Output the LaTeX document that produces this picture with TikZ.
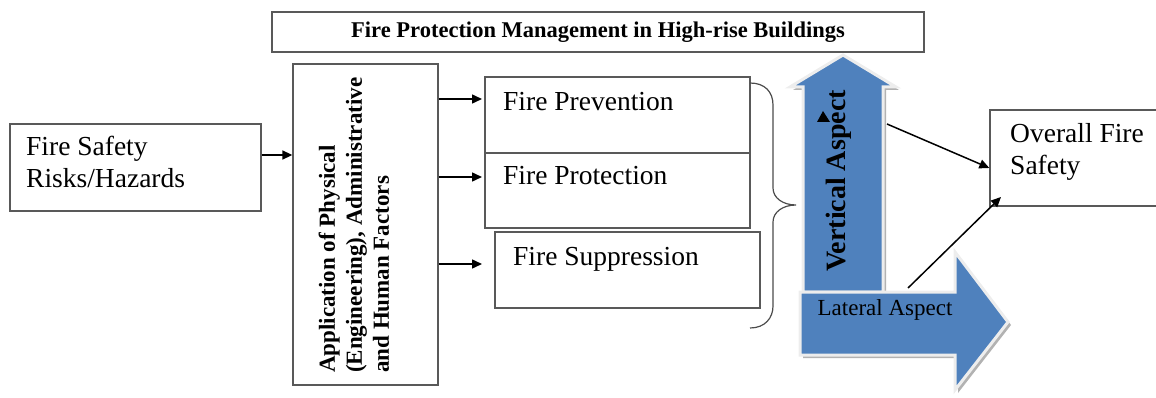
\documentclass[tikz,border=0pt]{standalone}
\usepackage{fontspec}
\setmainfont{Liberation Serif}
\usetikzlibrary{arrows.meta}
\definecolor{aspectblue}{RGB}{79,129,189}
\tikzset{
 box/.style={draw=black!65, line width=1.3pt, inner sep=0pt},
 conn/.style={draw=black, line width=1.5pt, -{Triangle[length=10pt,width=9pt]}},
 lbl/.style={inner sep=0pt, anchor=base west, font=\fontsize{27.5}{32}\selectfont, align=left},
 bigarrow/.style={fill=aspectblue, draw=black!7, line width=3pt, line join=miter},
 arrowshadow/.style={fill=black!30},
}
\begin{document}
\begin{tikzpicture}[x=1pt,y=-1pt]
\useasboundingbox (0,0) rectangle (1156,398);
% boxes
\node[box, minimum width=652pt, minimum height=40pt, font=\bfseries\fontsize{22.5}{26}\selectfont] (title) at (598,32) {Fire Protection Management in High-rise Buildings};
\node[box, minimum width=251pt, minimum height=87pt] (safe) at (135.5,167.5) {};
\node[box, minimum width=145pt, minimum height=321pt] (app) at (365.5,224.5) {};
\node[box, minimum width=265pt, minimum height=76pt] (prev) at (617.5,115) {};
\node[box, minimum width=265pt, minimum height=75pt] (prot) at (617.5,190.5) {};
\node[box, minimum width=265pt, minimum height=76pt] (supp) at (627.5,270) {};
\node[box, minimum width=170pt, minimum height=96pt] (overall) at (1075,158) {};
% labels
\node[lbl] (tsafe) at (26,188) {Fire Safety\\Risks/Hazards};
\node[lbl] (tprev) at (503,111) {Fire Prevention};
\node[lbl] (tprot) at (503,185) {Fire Protection};
\node[lbl] (tsupp) at (513,265) {Fire Suppression};
\node[lbl] (tover) at (1010,175) {Overall Fire\\Safety};
\node[rotate=90, anchor=west, align=left, inner sep=0pt, font=\bfseries\fontsize{23}{27}\selectfont] (apptxt) at (354,373) {Application of Physical\\(Engineering), Administrative\\and Human Factors};
% connectors
\draw[conn] (safe.east |- 0,155) -- (app.west |- 0,155);
\coordinate (a1e) at (482,99);
\coordinate (a2e) at (482,177);
\coordinate (a3e) at (482,264);
\draw[conn] (app.east |- a1e) -- (a1e);
\draw[conn] (app.east |- a2e) -- (a2e);
\draw[conn] (app.east |- a3e) -- (a3e);
% brace
\draw[black!70, line width=1.2pt] (750,83) .. controls (765,83) and (773,92) .. (773,105) -- (773,188) .. controls (773,198) and (783,205) .. (796,205) .. controls (783,205) and (773,212) .. (773,222) -- (773,306) .. controls (773,318) and (765,328) .. (750,328);
% big arrows
\fill[arrowshadow] (806,295) -- (806,90) -- (793,90) -- (846,58) -- (899,90) -- (886,90) -- (886,295) -- cycle;
\path[bigarrow] (803,292) -- (803,87) -- (790,87) -- (843,55) -- (896,87) -- (883,87) -- (883,292) -- cycle;
\fill[arrowshadow] (803,295) -- (958,295) -- (958,255) -- (1011,325) -- (958,393) -- (958,358) -- (803,358) -- cycle;
\path[bigarrow] (800,292) -- (955,292) -- (955,252) -- (1008,322) -- (955,390) -- (955,355) -- (800,355) -- cycle;
\node[rotate=90, anchor=base, inner sep=0pt, font=\bfseries\fontsize{28}{32}\selectfont] (vtxt) at (845,181) {Vertical Aspect};
\node[anchor=base, inner sep=0pt, font=\fontsize{23}{27}\selectfont] (ltxt) at (885,315) {Lateral Aspect};
\fill (817,122) -- (823,111) -- (830,122) -- cycle;
% to overall
\coordinate (v1) at (887,124);
\coordinate (l1) at (908,288);
\coordinate (ov2) at (1001,197);
\draw[conn] (v1) -- (overall.west |- 0,168);
\draw[conn] (l1) -- (ov2);
\end{tikzpicture}
\end{document}
